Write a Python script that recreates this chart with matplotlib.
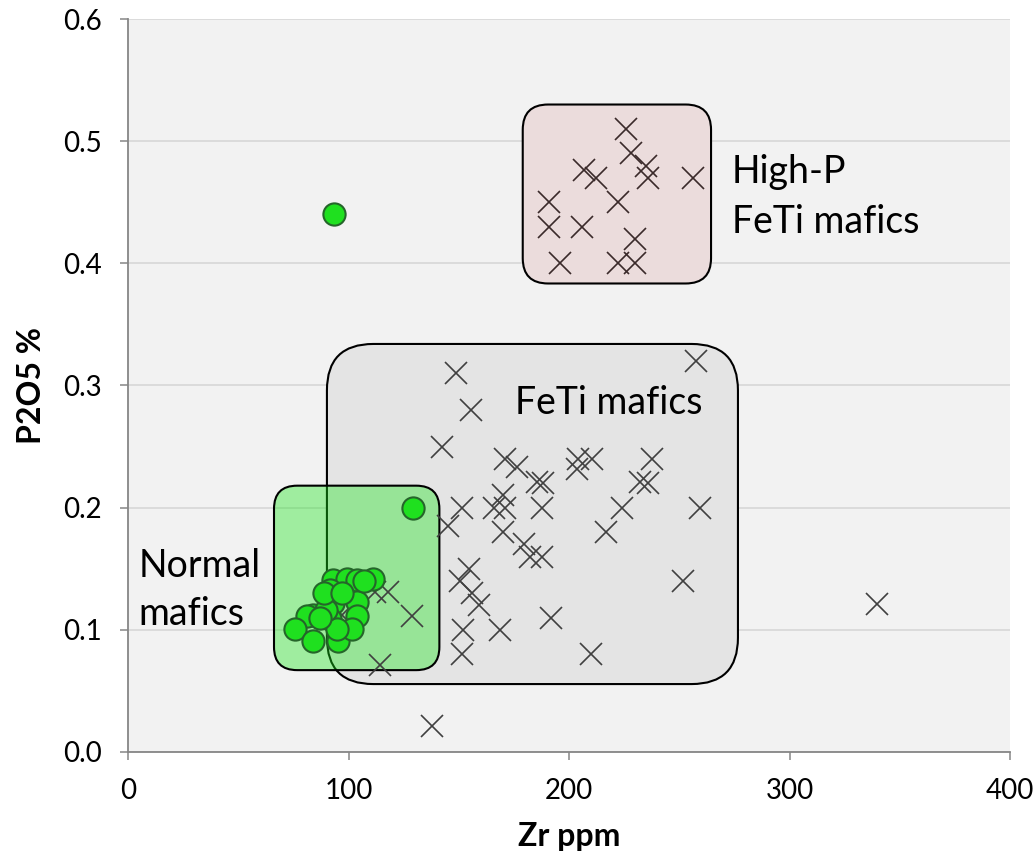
import matplotlib
matplotlib.use("Agg")
import matplotlib.pyplot as plt
from matplotlib.patches import FancyBboxPatch
import numpy as np

plt.rcParams['font.family'] = ['Lato', 'DejaVu Sans']

# Normal mafics (green circles)
normal_zr = [93.4, 129.4, 92.8, 99.2, 103.7, 111, 91.6, 92.8, 104, 103.7, 91.6, 84, 81,
             75.7, 83.8, 95.4, 101.5, 94.6, 90, 89, 97, 107, 87]
normal_p = [0.44, 0.20, 0.141, 0.142, 0.141, 0.142, 0.133, 0.122, 0.123, 0.111, 0.109, 0.112, 0.111,
            0.101, 0.091, 0.091, 0.101, 0.101, 0.116, 0.13, 0.13, 0.14, 0.11]

# High-P FeTi mafics (crosses)
highp_zr = [226, 228, 207, 212, 235, 236, 256, 191, 222, 191, 206, 230, 196, 222, 230]
highp_p = [0.51, 0.49, 0.476, 0.47, 0.48, 0.47, 0.47, 0.45, 0.45, 0.43, 0.43, 0.42, 0.40, 0.40, 0.40]

# FeTi mafics (crosses)
feti_zr = [257.6, 148.6, 155.4, 142.3, 171, 176.3, 185.3, 188.4, 204.2, 210.3, 203.5, 237.8,
           232.2, 235.7, 169.9, 151.3, 166, 171, 187.6, 223.9, 259.4, 145.3, 169.9, 216.8,
           179.6, 182.3, 187.6, 154.8, 150.6, 155.9, 159.3, 251.8, 191.7, 151.8, 168.7,
           151.3, 209.8, 118, 112, 128.7, 114.3, 96.9, 137.9, 339.7]
feti_p = [0.32, 0.31, 0.28, 0.25, 0.24, 0.233, 0.221, 0.22, 0.24, 0.24, 0.232, 0.24,
          0.221, 0.22, 0.21, 0.20, 0.20, 0.20, 0.20, 0.20, 0.20, 0.185, 0.18, 0.18,
          0.17, 0.16, 0.16, 0.15, 0.14, 0.13, 0.12, 0.14, 0.11, 0.10, 0.10,
          0.08, 0.08, 0.131, 0.131, 0.111, 0.071, 0.112, 0.021, 0.121]

# field outlines: (zr_min, zr_max, p_min, p_max, radius in zr units)
feti_box = (90.2, 276.6, 0.0556, 0.334, 21)
normal_box = (66.2, 141.2, 0.067, 0.218, 10.5)
highp_box = (179.0, 264.4, 0.3835, 0.530, 11.5)

xlim = (0, 400)
ylim = (0, 0.6)

fig = plt.figure(figsize=(10.35, 8.6), dpi=100)
ax = fig.add_axes([0.1237, 0.1256, 0.8522, 0.8523])
ax.set_facecolor('#f2f2f2')
ax.set_xlim(*xlim)
ax.set_ylim(*ylim)

# y units per x unit on screen, so the rounded corners stay circular
aspect = ((ylim[1] - ylim[0]) / 733.0) / ((xlim[1] - xlim[0]) / 881.0)


def add_field(box, face, z):
    x0, x1, y0, y1, r = box
    p = FancyBboxPatch((x0, y0), x1 - x0, y1 - y0,
                       boxstyle="round,pad=0,rounding_size=%g" % r,
                       mutation_aspect=aspect, facecolor=face,
                       edgecolor='black', linewidth=1.5, zorder=z)
    ax.add_patch(p)


add_field(feti_box, '#e4e4e4', 1)
add_field(highp_box, '#ebdcdc', 1)
add_field(normal_box, (0.1, 0.9, 0.1, 0.38), 1.5)

ax.plot(feti_zr, feti_p, linestyle='none', marker='x', markersize=16,
        markeredgewidth=1.2, color='#404040', zorder=2)
ax.plot(highp_zr, highp_p, linestyle='none', marker='x', markersize=16,
        markeredgewidth=1.2, color='#3a2a2a', zorder=2)
ax.plot(normal_zr, normal_p, linestyle='none', marker='o', markersize=16,
        markerfacecolor='#1fe01f', markeredgecolor='#25652a',
        markeredgewidth=1.5, zorder=3)

ax.text(273.8, 0.4656, 'High-P', fontsize=27, va='baseline', zorder=4)
ax.text(273.8, 0.4247, 'FeTi mafics', fontsize=27, va='baseline', zorder=4)
ax.text(175.5, 0.2766, 'FeTi mafics', fontsize=27, va='baseline', zorder=4)
ax.text(4.7, 0.1435, 'Normal', fontsize=27, va='baseline', zorder=4)
ax.text(4.7, 0.1040, 'mafics', fontsize=27, va='baseline', zorder=4)

ax.set_xticks(np.arange(0, 401, 100))
ax.set_yticks(np.arange(0, 0.61, 0.1))
ax.set_yticklabels(['%.1f' % v for v in np.arange(0, 0.61, 0.1)])
ax.yaxis.grid(True, color='#d9d9d9', linewidth=1.3, zorder=0.5)
ax.set_axisbelow(True)

for s in ['top', 'right']:
    ax.spines[s].set_visible(False)
for s in ['left', 'bottom']:
    ax.spines[s].set_color('#868686')
    ax.spines[s].set_linewidth(1.3)
ax.tick_params(axis='both', direction='out', length=6, width=1.1,
               color='#868686', labelsize=20, pad=13, labelcolor='black')

ax.set_xlabel('Zr ppm', fontsize=23, fontweight='bold', labelpad=13)
ax.set_ylabel('P2O5 %', fontsize=23, fontweight='bold', labelpad=12)

fig.savefig('out.png', dpi=100)
